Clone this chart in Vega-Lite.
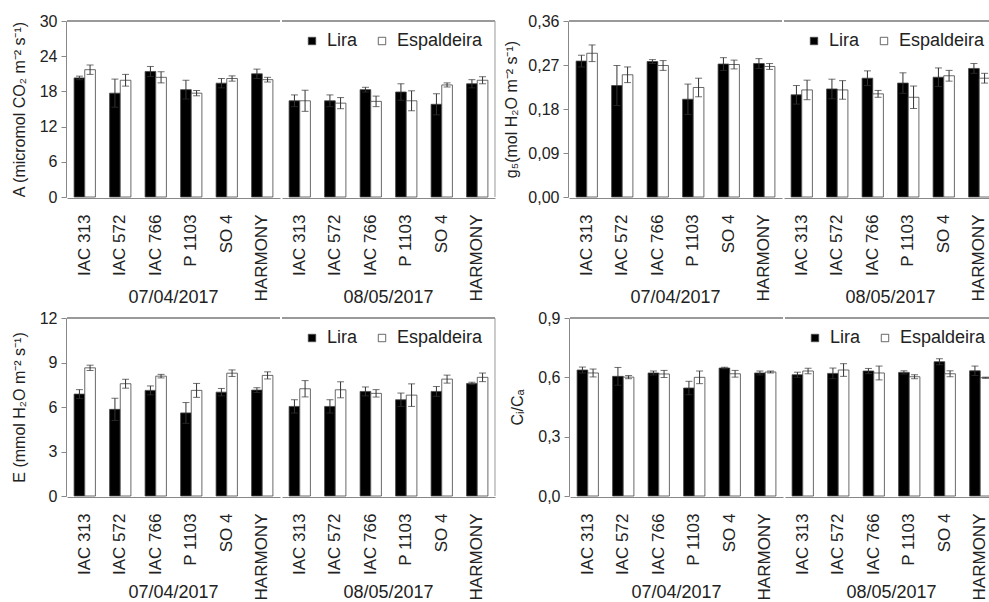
{
  "$schema": "https://vega.github.io/schema/vega-lite/v6.json",
  "background": "white",
  "padding": {"left": 11, "top": 13, "right": 0, "bottom": 0},
  "config": {
    "font": "Liberation Sans",
    "view": {"stroke": null},
    "axis": {"labelFont": "Liberation Sans", "titleFont": "Liberation Sans", "labelColor": "#222", "titleColor": "#222", "domainColor": "#888", "tickColor": "#888", "grid": false},
    "axisY": {"labelFontSize": 16, "titleFontSize": 16, "titleFontWeight": "normal", "tickSize": 5, "labelPadding": 4, "titlePadding": 12, "labelOverlap": false},
    "axisX": {"labelFontSize": 17, "labelAngle": -90, "ticks": false, "labelPadding": 16, "title": null},
    "header": {"labelOrient": "bottom", "labelFontSize": 18, "labelPadding": -12, "labelFont": "Liberation Sans", "labelColor": "#222", "title": null},
    "legend": {"orient": "none", "direction": "horizontal", "title": null, "symbolType": "square", "symbolSize": 55, "labelFontSize": 18, "labelFont": "Liberation Sans", "labelColor": "#222", "columnPadding": 15, "labelOffset": 6, "symbolStrokeColor": "#444", "symbolStrokeWidth": 0.8, "legendX": 236, "legendY": 11}
  },
  "datasets": {
    "A": [
      {"date": "07/04/2017", "rootstock": "IAC 313", "cultivar": "Lira", "v": 20.3, "e": 0.3},
      {"date": "07/04/2017", "rootstock": "IAC 313", "cultivar": "Espaldeira", "v": 21.7, "e": 0.8},
      {"date": "07/04/2017", "rootstock": "IAC 572", "cultivar": "Lira", "v": 17.7, "e": 2.4},
      {"date": "07/04/2017", "rootstock": "IAC 572", "cultivar": "Espaldeira", "v": 19.9, "e": 1.0},
      {"date": "07/04/2017", "rootstock": "IAC 766", "cultivar": "Lira", "v": 21.4, "e": 0.85},
      {"date": "07/04/2017", "rootstock": "IAC 766", "cultivar": "Espaldeira", "v": 20.4, "e": 0.95},
      {"date": "07/04/2017", "rootstock": "P 1103", "cultivar": "Lira", "v": 18.3, "e": 1.6},
      {"date": "07/04/2017", "rootstock": "P 1103", "cultivar": "Espaldeira", "v": 17.7, "e": 0.45},
      {"date": "07/04/2017", "rootstock": "SO 4", "cultivar": "Lira", "v": 19.4, "e": 0.8},
      {"date": "07/04/2017", "rootstock": "SO 4", "cultivar": "Espaldeira", "v": 20.2, "e": 0.45},
      {"date": "07/04/2017", "rootstock": "HARMONY", "cultivar": "Lira", "v": 21.0, "e": 0.8},
      {"date": "07/04/2017", "rootstock": "HARMONY", "cultivar": "Espaldeira", "v": 20.0, "e": 0.4},
      {"date": "08/05/2017", "rootstock": "IAC 313", "cultivar": "Lira", "v": 16.4, "e": 1.0},
      {"date": "08/05/2017", "rootstock": "IAC 313", "cultivar": "Espaldeira", "v": 16.4, "e": 1.8},
      {"date": "08/05/2017", "rootstock": "IAC 572", "cultivar": "Lira", "v": 16.4, "e": 1.0},
      {"date": "08/05/2017", "rootstock": "IAC 572", "cultivar": "Espaldeira", "v": 16.0, "e": 0.95},
      {"date": "08/05/2017", "rootstock": "IAC 766", "cultivar": "Lira", "v": 18.3, "e": 0.4},
      {"date": "08/05/2017", "rootstock": "IAC 766", "cultivar": "Espaldeira", "v": 16.3, "e": 0.9},
      {"date": "08/05/2017", "rootstock": "P 1103", "cultivar": "Lira", "v": 17.9, "e": 1.4},
      {"date": "08/05/2017", "rootstock": "P 1103", "cultivar": "Espaldeira", "v": 16.4, "e": 1.7},
      {"date": "08/05/2017", "rootstock": "SO 4", "cultivar": "Lira", "v": 15.8, "e": 1.8},
      {"date": "08/05/2017", "rootstock": "SO 4", "cultivar": "Espaldeira", "v": 19.1, "e": 0.35},
      {"date": "08/05/2017", "rootstock": "HARMONY", "cultivar": "Lira", "v": 19.3, "e": 0.7},
      {"date": "08/05/2017", "rootstock": "HARMONY", "cultivar": "Espaldeira", "v": 19.9, "e": 0.6}
    ],
    "gs": [
      {"date": "07/04/2017", "rootstock": "IAC 313", "cultivar": "Lira", "v": 0.278, "e": 0.012},
      {"date": "07/04/2017", "rootstock": "IAC 313", "cultivar": "Espaldeira", "v": 0.294, "e": 0.017},
      {"date": "07/04/2017", "rootstock": "IAC 572", "cultivar": "Lira", "v": 0.228, "e": 0.041},
      {"date": "07/04/2017", "rootstock": "IAC 572", "cultivar": "Espaldeira", "v": 0.25, "e": 0.016},
      {"date": "07/04/2017", "rootstock": "IAC 766", "cultivar": "Lira", "v": 0.277, "e": 0.004},
      {"date": "07/04/2017", "rootstock": "IAC 766", "cultivar": "Espaldeira", "v": 0.269, "e": 0.01},
      {"date": "07/04/2017", "rootstock": "P 1103", "cultivar": "Lira", "v": 0.2, "e": 0.031},
      {"date": "07/04/2017", "rootstock": "P 1103", "cultivar": "Espaldeira", "v": 0.224, "e": 0.019},
      {"date": "07/04/2017", "rootstock": "SO 4", "cultivar": "Lira", "v": 0.272, "e": 0.013},
      {"date": "07/04/2017", "rootstock": "SO 4", "cultivar": "Espaldeira", "v": 0.271, "e": 0.009},
      {"date": "07/04/2017", "rootstock": "HARMONY", "cultivar": "Lira", "v": 0.273, "e": 0.01},
      {"date": "07/04/2017", "rootstock": "HARMONY", "cultivar": "Espaldeira", "v": 0.267, "e": 0.006},
      {"date": "08/05/2017", "rootstock": "IAC 313", "cultivar": "Lira", "v": 0.209, "e": 0.019},
      {"date": "08/05/2017", "rootstock": "IAC 313", "cultivar": "Espaldeira", "v": 0.219, "e": 0.02},
      {"date": "08/05/2017", "rootstock": "IAC 572", "cultivar": "Lira", "v": 0.221, "e": 0.02},
      {"date": "08/05/2017", "rootstock": "IAC 572", "cultivar": "Espaldeira", "v": 0.219, "e": 0.019},
      {"date": "08/05/2017", "rootstock": "IAC 766", "cultivar": "Lira", "v": 0.243, "e": 0.015},
      {"date": "08/05/2017", "rootstock": "IAC 766", "cultivar": "Espaldeira", "v": 0.211, "e": 0.007},
      {"date": "08/05/2017", "rootstock": "P 1103", "cultivar": "Lira", "v": 0.233, "e": 0.021},
      {"date": "08/05/2017", "rootstock": "P 1103", "cultivar": "Espaldeira", "v": 0.204, "e": 0.023},
      {"date": "08/05/2017", "rootstock": "SO 4", "cultivar": "Lira", "v": 0.245, "e": 0.019},
      {"date": "08/05/2017", "rootstock": "SO 4", "cultivar": "Espaldeira", "v": 0.248, "e": 0.011},
      {"date": "08/05/2017", "rootstock": "HARMONY", "cultivar": "Lira", "v": 0.263, "e": 0.01},
      {"date": "08/05/2017", "rootstock": "HARMONY", "cultivar": "Espaldeira", "v": 0.243, "e": 0.01}
    ],
    "E": [
      {"date": "07/04/2017", "rootstock": "IAC 313", "cultivar": "Lira", "v": 6.87, "e": 0.3},
      {"date": "07/04/2017", "rootstock": "IAC 313", "cultivar": "Espaldeira", "v": 8.64, "e": 0.18},
      {"date": "07/04/2017", "rootstock": "IAC 572", "cultivar": "Lira", "v": 5.84, "e": 0.75},
      {"date": "07/04/2017", "rootstock": "IAC 572", "cultivar": "Espaldeira", "v": 7.57, "e": 0.3},
      {"date": "07/04/2017", "rootstock": "IAC 766", "cultivar": "Lira", "v": 7.12, "e": 0.3},
      {"date": "07/04/2017", "rootstock": "IAC 766", "cultivar": "Espaldeira", "v": 8.08, "e": 0.12},
      {"date": "07/04/2017", "rootstock": "P 1103", "cultivar": "Lira", "v": 5.6, "e": 0.7},
      {"date": "07/04/2017", "rootstock": "P 1103", "cultivar": "Espaldeira", "v": 7.12, "e": 0.47},
      {"date": "07/04/2017", "rootstock": "SO 4", "cultivar": "Lira", "v": 7.0, "e": 0.25},
      {"date": "07/04/2017", "rootstock": "SO 4", "cultivar": "Espaldeira", "v": 8.28, "e": 0.22},
      {"date": "07/04/2017", "rootstock": "HARMONY", "cultivar": "Lira", "v": 7.14, "e": 0.16},
      {"date": "07/04/2017", "rootstock": "HARMONY", "cultivar": "Espaldeira", "v": 8.13, "e": 0.24},
      {"date": "08/05/2017", "rootstock": "IAC 313", "cultivar": "Lira", "v": 6.04, "e": 0.45},
      {"date": "08/05/2017", "rootstock": "IAC 313", "cultivar": "Espaldeira", "v": 7.23, "e": 0.55},
      {"date": "08/05/2017", "rootstock": "IAC 572", "cultivar": "Lira", "v": 6.04, "e": 0.45},
      {"date": "08/05/2017", "rootstock": "IAC 572", "cultivar": "Espaldeira", "v": 7.16, "e": 0.54},
      {"date": "08/05/2017", "rootstock": "IAC 766", "cultivar": "Lira", "v": 7.05, "e": 0.3},
      {"date": "08/05/2017", "rootstock": "IAC 766", "cultivar": "Espaldeira", "v": 6.92, "e": 0.25},
      {"date": "08/05/2017", "rootstock": "P 1103", "cultivar": "Lira", "v": 6.49, "e": 0.45},
      {"date": "08/05/2017", "rootstock": "P 1103", "cultivar": "Espaldeira", "v": 6.8, "e": 0.76},
      {"date": "08/05/2017", "rootstock": "SO 4", "cultivar": "Lira", "v": 7.05, "e": 0.33},
      {"date": "08/05/2017", "rootstock": "SO 4", "cultivar": "Espaldeira", "v": 7.88, "e": 0.27},
      {"date": "08/05/2017", "rootstock": "HARMONY", "cultivar": "Lira", "v": 7.59, "e": 0.08},
      {"date": "08/05/2017", "rootstock": "HARMONY", "cultivar": "Espaldeira", "v": 8.0, "e": 0.29}
    ],
    "ci": [
      {"date": "07/04/2017", "rootstock": "IAC 313", "cultivar": "Lira", "v": 0.637, "e": 0.015},
      {"date": "07/04/2017", "rootstock": "IAC 313", "cultivar": "Espaldeira", "v": 0.622, "e": 0.02},
      {"date": "07/04/2017", "rootstock": "IAC 572", "cultivar": "Lira", "v": 0.605, "e": 0.045},
      {"date": "07/04/2017", "rootstock": "IAC 572", "cultivar": "Espaldeira", "v": 0.601, "e": 0.008},
      {"date": "07/04/2017", "rootstock": "IAC 766", "cultivar": "Lira", "v": 0.622, "e": 0.01},
      {"date": "07/04/2017", "rootstock": "IAC 766", "cultivar": "Espaldeira", "v": 0.617, "e": 0.018},
      {"date": "07/04/2017", "rootstock": "P 1103", "cultivar": "Lira", "v": 0.546, "e": 0.034},
      {"date": "07/04/2017", "rootstock": "P 1103", "cultivar": "Espaldeira", "v": 0.6, "e": 0.032},
      {"date": "07/04/2017", "rootstock": "SO 4", "cultivar": "Lira", "v": 0.647, "e": 0.004},
      {"date": "07/04/2017", "rootstock": "SO 4", "cultivar": "Espaldeira", "v": 0.618, "e": 0.017},
      {"date": "07/04/2017", "rootstock": "HARMONY", "cultivar": "Lira", "v": 0.622, "e": 0.01},
      {"date": "07/04/2017", "rootstock": "HARMONY", "cultivar": "Espaldeira", "v": 0.627, "e": 0.005},
      {"date": "08/05/2017", "rootstock": "IAC 313", "cultivar": "Lira", "v": 0.613, "e": 0.013},
      {"date": "08/05/2017", "rootstock": "IAC 313", "cultivar": "Espaldeira", "v": 0.632, "e": 0.014},
      {"date": "08/05/2017", "rootstock": "IAC 572", "cultivar": "Lira", "v": 0.62, "e": 0.027},
      {"date": "08/05/2017", "rootstock": "IAC 572", "cultivar": "Espaldeira", "v": 0.637, "e": 0.032},
      {"date": "08/05/2017", "rootstock": "IAC 766", "cultivar": "Lira", "v": 0.632, "e": 0.013},
      {"date": "08/05/2017", "rootstock": "IAC 766", "cultivar": "Espaldeira", "v": 0.622, "e": 0.035},
      {"date": "08/05/2017", "rootstock": "P 1103", "cultivar": "Lira", "v": 0.625, "e": 0.008},
      {"date": "08/05/2017", "rootstock": "P 1103", "cultivar": "Espaldeira", "v": 0.603, "e": 0.01},
      {"date": "08/05/2017", "rootstock": "SO 4", "cultivar": "Lira", "v": 0.679, "e": 0.015},
      {"date": "08/05/2017", "rootstock": "SO 4", "cultivar": "Espaldeira", "v": 0.618, "e": 0.015},
      {"date": "08/05/2017", "rootstock": "HARMONY", "cultivar": "Lira", "v": 0.633, "e": 0.024},
      {"date": "08/05/2017", "rootstock": "HARMONY", "cultivar": "Espaldeira", "v": 0.598, "e": 0.003}
    ]
  },
  "resolve": {"scale": {"color": "independent"}, "legend": {"color": "independent"}},
  "spacing": 3,
  "vconcat": [
    {
      "spacing": 7,
      "resolve": {"scale": {"color": "independent"}, "legend": {"color": "independent"}},
      "hconcat": [
        {
          "data": {"name": "A"},
          "facet": {"column": {"field": "date", "type": "nominal", "title": null}},
          "spacing": 0,
          "spec": {
            "width": 213, "height": 176,
            "layer": [
              {"mark": {"type": "rule", "color": "#999"}, "encoding": {"y": {"datum": 30, "type": "quantitative", "axis": {"values": [0, 6, 12, 18, 24, 30], "labelOverlap": false}, "title": "A (micromol CO₂ m⁻² s⁻¹)"}}},
              {"transform": [{"filter": "datum.date == '08/05/2017' && datum.rootstock == 'HARMONY' && datum.cultivar == 'Lira'"}],
               "mark": {"type": "rule", "color": "#999"},
               "encoding": {"x": {"field": "rootstock", "type": "nominal", "bandPosition": 1.333, "sort": ["IAC 313", "IAC 572", "IAC 766", "P 1103", "SO 4", "HARMONY"]}}},
              {"mark": {"type": "bar", "stroke": "#444", "strokeWidth": 0.8},
               "encoding": {
                 "x": {"field": "rootstock", "type": "nominal", "sort": ["IAC 313", "IAC 572", "IAC 766", "P 1103", "SO 4", "HARMONY"], "scale": {"paddingInner": 0.4, "paddingOuter": 0.2}},
                 "xOffset": {"field": "cultivar", "type": "nominal", "sort": ["Lira", "Espaldeira"]},
                 "y": {"field": "v", "type": "quantitative", "scale": {"domain": [0, 30], "nice": false}, "axis": {"values": [0, 6, 12, 18, 24, 30], "labelOverlap": false}, "title": "A (micromol CO₂ m⁻² s⁻¹)"},
                 "color": {"field": "cultivar", "type": "nominal", "scale": {"domain": ["Lira", "Espaldeira"], "range": ["#000000", "#ffffff"]}}
               }},
              {"mark": {"type": "errorbar", "ticks": {"size": 7}, "color": "#333", "thickness": 1},
               "encoding": {
                 "x": {"field": "rootstock", "type": "nominal", "sort": ["IAC 313", "IAC 572", "IAC 766", "P 1103", "SO 4", "HARMONY"]},
                 "xOffset": {"field": "cultivar", "type": "nominal", "sort": ["Lira", "Espaldeira"]},
                 "y": {"field": "v", "type": "quantitative", "axis": {"values": [0, 6, 12, 18, 24, 30], "labelOverlap": false}, "title": "A (micromol CO₂ m⁻² s⁻¹)"},
                 "yError": {"field": "e"}
               }}
            ]
          }
        },
        {
          "data": {"name": "gs"},
          "facet": {"column": {"field": "date", "type": "nominal", "title": null}},
          "spacing": 0,
          "spec": {
            "width": 213, "height": 176,
            "layer": [
              {"mark": {"type": "rule", "color": "#999"}, "encoding": {"y": {"datum": 0.36, "type": "quantitative"}}},
              {"mark": {"type": "bar", "stroke": "#444", "strokeWidth": 0.8},
               "encoding": {
                 "x": {"field": "rootstock", "type": "nominal", "sort": ["IAC 313", "IAC 572", "IAC 766", "P 1103", "SO 4", "HARMONY"], "scale": {"paddingInner": 0.4, "paddingOuter": 0.2}},
                 "xOffset": {"field": "cultivar", "type": "nominal", "sort": ["Lira", "Espaldeira"]},
                 "y": {"field": "v", "type": "quantitative", "scale": {"domain": [0, 0.36], "nice": false}, "axis": {"values": [0, 0.09, 0.18, 0.27, 0.36], "titlePadding": 8, "labelExpr": "replace(format(datum.value, '.2f'), '.', ',')"}, "title": "g₅(mol H₂O m⁻² s⁻¹)"},
                 "color": {"field": "cultivar", "type": "nominal", "scale": {"domain": ["Lira", "Espaldeira"], "range": ["#000000", "#ffffff"]}}
               }},
              {"mark": {"type": "errorbar", "ticks": {"size": 7}, "color": "#333", "thickness": 1},
               "encoding": {
                 "x": {"field": "rootstock", "type": "nominal", "sort": ["IAC 313", "IAC 572", "IAC 766", "P 1103", "SO 4", "HARMONY"]},
                 "xOffset": {"field": "cultivar", "type": "nominal", "sort": ["Lira", "Espaldeira"]},
                 "y": {"field": "v", "type": "quantitative", "title": "g₅(mol H₂O m⁻² s⁻¹)"},
                 "yError": {"field": "e"}
               }}
            ]
          }
        }
      ]
    },
    {
      "spacing": 13,
      "resolve": {"scale": {"color": "independent"}, "legend": {"color": "independent"}},
      "hconcat": [
        {
          "data": {"name": "E"},
          "facet": {"column": {"field": "date", "type": "nominal", "title": null, "header": {"labelPadding": -16}}},
          "spacing": 0,
          "spec": {
            "width": 213, "height": 178,
            "layer": [
              {"mark": {"type": "rule", "color": "#999"}, "encoding": {"y": {"datum": 12, "type": "quantitative"}}},
              {"transform": [{"filter": "datum.date == '08/05/2017' && datum.rootstock == 'HARMONY' && datum.cultivar == 'Lira'"}],
               "mark": {"type": "rule", "color": "#999"},
               "encoding": {"x": {"field": "rootstock", "type": "nominal", "bandPosition": 1.333, "sort": ["IAC 313", "IAC 572", "IAC 766", "P 1103", "SO 4", "HARMONY"]}}},
              {"mark": {"type": "bar", "stroke": "#444", "strokeWidth": 0.8},
               "encoding": {
                 "x": {"field": "rootstock", "type": "nominal", "sort": ["IAC 313", "IAC 572", "IAC 766", "P 1103", "SO 4", "HARMONY"], "scale": {"paddingInner": 0.4, "paddingOuter": 0.2}},
                 "xOffset": {"field": "cultivar", "type": "nominal", "sort": ["Lira", "Espaldeira"]},
                 "y": {"field": "v", "type": "quantitative", "scale": {"domain": [0, 12], "nice": false}, "axis": {"values": [0, 3, 6, 9, 12]}, "title": "E (mmol H₂O m⁻² s⁻¹)"},
                 "color": {"field": "cultivar", "type": "nominal", "scale": {"domain": ["Lira", "Espaldeira"], "range": ["#000000", "#ffffff"]}}
               }},
              {"mark": {"type": "errorbar", "ticks": {"size": 7}, "color": "#333", "thickness": 1},
               "encoding": {
                 "x": {"field": "rootstock", "type": "nominal", "sort": ["IAC 313", "IAC 572", "IAC 766", "P 1103", "SO 4", "HARMONY"]},
                 "xOffset": {"field": "cultivar", "type": "nominal", "sort": ["Lira", "Espaldeira"]},
                 "y": {"field": "v", "type": "quantitative", "title": "E (mmol H₂O m⁻² s⁻¹)"},
                 "yError": {"field": "e"}
               }}
            ]
          }
        },
        {
          "data": {"name": "ci"},
          "facet": {"column": {"field": "date", "type": "nominal", "title": null, "header": {"labelPadding": -16}}},
          "spacing": 0,
          "spec": {
            "width": 213, "height": 178,
            "layer": [
              {"mark": {"type": "rule", "color": "#999"}, "encoding": {"y": {"datum": 0.9, "type": "quantitative"}}},
              {"mark": {"type": "bar", "stroke": "#444", "strokeWidth": 0.8},
               "encoding": {
                 "x": {"field": "rootstock", "type": "nominal", "sort": ["IAC 313", "IAC 572", "IAC 766", "P 1103", "SO 4", "HARMONY"], "scale": {"paddingInner": 0.4, "paddingOuter": 0.2}},
                 "xOffset": {"field": "cultivar", "type": "nominal", "sort": ["Lira", "Espaldeira"]},
                 "y": {"field": "v", "type": "quantitative", "scale": {"domain": [0, 0.9], "nice": false}, "axis": {"values": [0, 0.3, 0.6, 0.9], "titlePadding": 12, "labelExpr": "replace(format(datum.value, '.1f'), '.', ',')"}, "title": "Cᵢ/Cₐ"},
                 "color": {"field": "cultivar", "type": "nominal", "scale": {"domain": ["Lira", "Espaldeira"], "range": ["#000000", "#ffffff"]}}
               }},
              {"mark": {"type": "errorbar", "ticks": {"size": 7}, "color": "#333", "thickness": 1},
               "encoding": {
                 "x": {"field": "rootstock", "type": "nominal", "sort": ["IAC 313", "IAC 572", "IAC 766", "P 1103", "SO 4", "HARMONY"]},
                 "xOffset": {"field": "cultivar", "type": "nominal", "sort": ["Lira", "Espaldeira"]},
                 "y": {"field": "v", "type": "quantitative", "title": "Cᵢ/Cₐ"},
                 "yError": {"field": "e"}
               }}
            ]
          }
        }
      ]
    }
  ]
}
